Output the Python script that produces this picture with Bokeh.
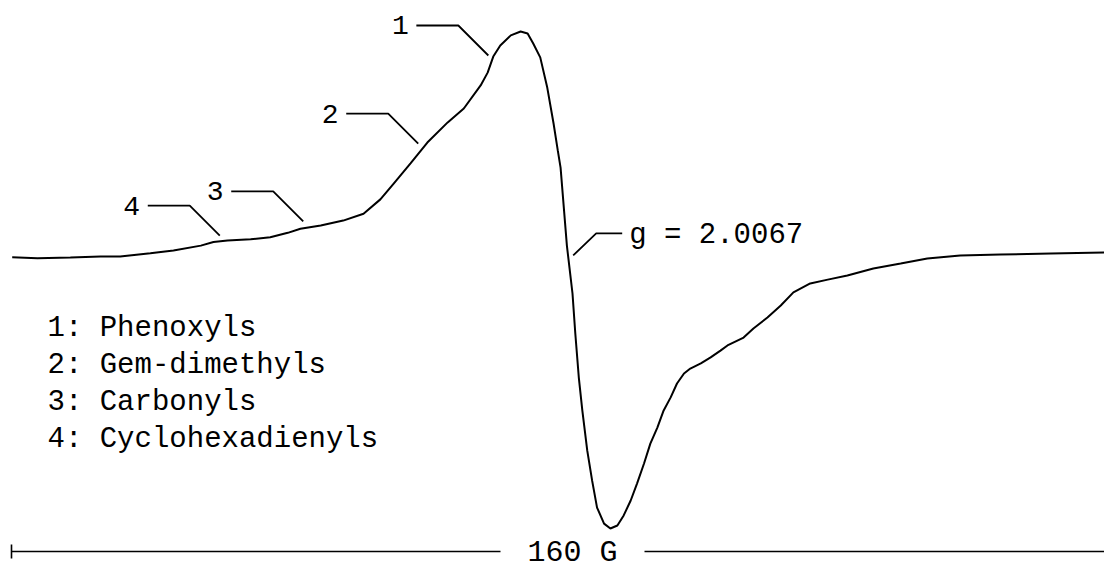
from bokeh.plotting import figure
from bokeh.models import Range1d
from bokeh.core.properties import value
from bokeh.embed import file_html
from bokeh.resources import INLINE

# ---- data (magnetic field offset in gauss, first-derivative EPR intensity in a.u.) ----
field_G = [0.1, 3.7, 8.4, 12.7, 15.5, 19.8, 23.1, 27.0, 28.8, 30.8, 34.1, 36.9, 39.4,
           41.2, 44.1, 47.3, 50.2, 52.6, 54.5, 56.9, 59.3, 62.2, 64.5, 66.9, 67.9,
           68.7, 69.7, 71.2, 72.6, 73.6, 74.4, 75.4, 76.4, 77.3, 77.9, 78.3, 79.2,
           80.0, 80.4, 80.9, 81.4, 82.1, 82.8, 83.5, 84.5, 85.4, 86.4, 87.3, 88.3,
           89.2, 90.2, 91.1, 92.1, 93.0, 94.0, 94.9, 95.9, 96.8, 98.3, 99.7, 101.1,
           102.1, 104.4, 105.8, 107.8, 109.7, 111.5, 113.9, 116.4, 119.2, 122.9,
           126.8, 130.6, 135.3, 141.0, 148.2, 156.4]
intensity = [-0.3, -0.6, -0.4, 0.0, 0.0, 1.2, 2.2, 4.0, 5.3, 5.9, 6.3, 7.1, 8.7,
             10.2, 11.4, 13.2, 15.7, 21.0, 26.8, 34.2, 41.9, 49.3, 54.4, 62.9, 67.6,
             73.5, 77.6, 81.3, 82.7, 82.0, 78.3, 73.2, 62.1, 48.9, 39.0, 32.7, 4.0,
             -13.6, -28.3, -44.5, -56.6, -71.3, -82.4, -92.3, -98.2, -100.0, -98.9,
             -95.2, -89.7, -83.5, -76.1, -68.8, -62.9, -56.6, -51.8, -46.7, -43.0,
             -41.2, -39.3, -37.1, -34.6, -32.7, -29.8, -26.5, -22.4, -18.0, -13.2,
             -9.9, -8.5, -7.0, -4.4, -2.6, -0.7, 0.4, 0.7, 1.1, 1.5]

peak_ids = ["1", "2", "3", "4"]
peak_field = [68.0, 58.0, 41.6, 29.7]
peak_int = [73.9, 41.5, 12.9, 7.7]

legend_rows = ["1:  Phenoxyls", "2:  Gem-dimethyls", "3:  Carbonyls", "4:  Cyclohexadienyls"]

g_text = "g = 2.0067"
g_field = 80.1
g_int = 0.4

scale_bar_G = [0, 160]
scale_text = "160 G"

# ---- layout helpers (screen pixels -> data units) ----
W, H = 1104, 572
PX_PER_G = 7.0125
PX_PER_U = 2.72
X0_PX = 11.0      # canvas x of 0 G
Y0_PX = 256.0     # canvas y of zero intensity
TXT = -9          # baseline correction for svg text (px)


def fx(px):
    return (px - X0_PX) / PX_PER_G


def fy(py):
    return (Y0_PX - py) / PX_PER_U


def dx(px):
    return px / PX_PER_G


def dy(py):  # py positive = downward on screen
    return -py / PX_PER_U


p = figure(width=W, height=H, output_backend="svg", toolbar_location=None,
           x_range=Range1d(fx(0), fx(W)), y_range=Range1d(fy(H), fy(0)),
           x_axis_location=None, y_axis_location=None, min_border=0)
p.grid.visible = False
p.outline_line_color = None
p.background_fill_color = "white"
p.border_fill_color = "white"

FONT = value("Liberation Mono")

# spectrum
p.line(field_G, intensity, line_color="black", line_width=2.0)

# peak leaders
lx, ly = [], []
for f, i in zip(peak_field, peak_int):
    lx.append([f, f + dx(-30), f + dx(-72)])
    ly.append([i, i + dy(-30), i + dy(-30)])
p.multi_line(lx, ly, line_color="black", line_width=1.8)
p.text(x=[f + dx(-88) for f in peak_field], y=[i + dy(-21 + TXT) for i in peak_int],
       text=peak_ids, text_font=FONT, text_font_size="28px", text_color="black",
       text_align="center", text_baseline="alphabetic")

# g-value leader
p.line([g_field, g_field + dx(23), g_field + dx(49)],
       [g_int, g_int + dy(-22), g_int + dy(-22)], line_color="black", line_width=1.8)
p.text(x=[g_field + dx(56)], y=[g_int + dy(-11 + TXT)], text=[g_text], text_font=FONT,
       text_font_size="29px", text_color="black", text_align="left",
       text_baseline="alphabetic")

# legend block
base_rows = [337, 374, 411, 448]
p.text(x=[fx(47)] * len(legend_rows), y=[fy(b + TXT) for b in base_rows],
       text=legend_rows, text_font=FONT, text_font_size="29px", text_color="black",
       text_align="left", text_baseline="alphabetic")

# scale bar
bar_y = fy(551)
mid = (scale_bar_G[0] + scale_bar_G[1]) / 2
gap = dx(72)
p.multi_line([[scale_bar_G[0], mid - gap], [mid + gap, scale_bar_G[1]]],
             [[bar_y, bar_y], [bar_y, bar_y]], line_color="black", line_width=1.6)
p.line([scale_bar_G[0], scale_bar_G[0]], [bar_y + dy(-7), bar_y + dy(7)],
       line_color="black", line_width=1.6)
p.text(x=[mid], y=[fy(561 + TXT)], text=[scale_text], text_font=FONT,
       text_font_size="30px", text_color="black", text_align="center",
       text_baseline="alphabetic")

open("out.html", "w").write(file_html(p, INLINE))
